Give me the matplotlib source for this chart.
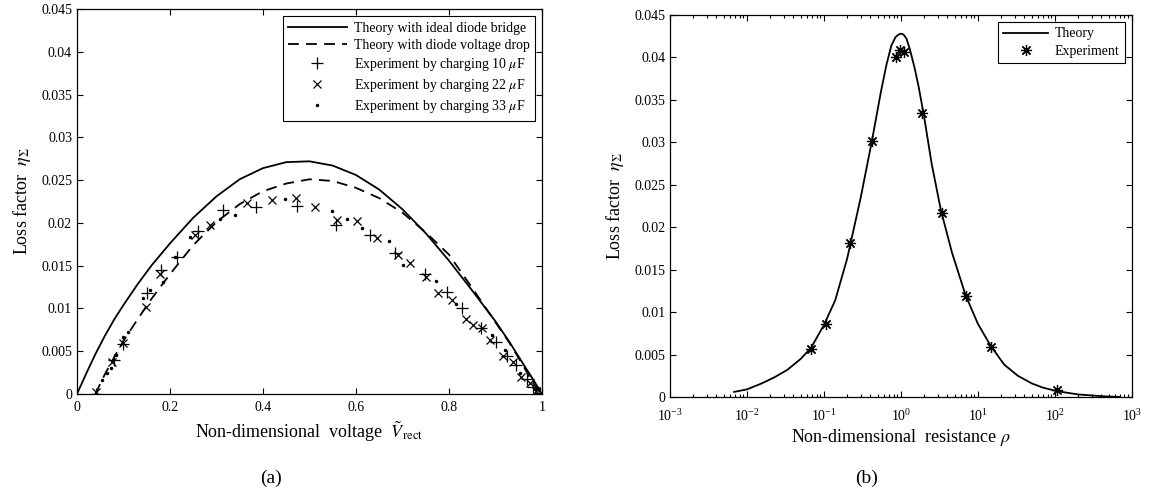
import numpy as np
import matplotlib
matplotlib.use("Agg")
import matplotlib.pyplot as plt

plt.rcParams['font.family'] = ['Liberation Serif', 'DejaVu Serif']
plt.rcParams['mathtext.fontset'] = 'stix'

# --- (a) loss factor vs rectified voltage ---
v_ideal = [0.0, 0.01, 0.02, 0.04, 0.06, 0.08, 0.10, 0.13, 0.16, 0.20, 0.25,
           0.30, 0.35, 0.40, 0.45, 0.50, 0.55, 0.60, 0.65, 0.70, 0.75, 0.80,
           0.85, 0.90, 0.93, 0.96, 0.98, 1.0]
eta_ideal = [0.0, 0.0012, 0.0024, 0.0047, 0.0068, 0.0087, 0.0104, 0.0128,
             0.0150, 0.0176, 0.0206, 0.0231, 0.0251, 0.0264, 0.0271, 0.0272,
             0.0267, 0.0256, 0.0239, 0.0216, 0.0188, 0.0156, 0.0121, 0.0085,
             0.0061, 0.0035, 0.0018, 0.0]

v_drop = [0.04, 0.05, 0.06, 0.08, 0.10, 0.13, 0.16, 0.20, 0.25, 0.30, 0.35,
          0.40, 0.45, 0.50, 0.55, 0.60, 0.65, 0.70, 0.75, 0.80, 0.85, 0.90,
          0.93, 0.96, 0.98, 1.0]
eta_drop = [0.0, 0.0012, 0.0023, 0.0043, 0.0062, 0.0087, 0.0111, 0.0140,
            0.0174, 0.0201, 0.0222, 0.0237, 0.0246, 0.0251, 0.0249, 0.0241,
            0.0229, 0.0212, 0.0189, 0.0163, 0.0124, 0.0084, 0.0060, 0.0033,
            0.0013, 0.0]

v_10uF = [0.04, 0.08, 0.10, 0.15, 0.18, 0.215, 0.26, 0.315, 0.386, 0.474,
          0.557, 0.63, 0.684, 0.748, 0.795, 0.829, 0.870, 0.902, 0.924, 0.945,
          0.967, 0.981, 0.995]
eta_10uF = [0.0, 0.0040, 0.0058, 0.0118, 0.0145, 0.0160, 0.0190, 0.0215,
            0.0219, 0.0220, 0.0198, 0.0186, 0.0165, 0.0140, 0.0119, 0.0100,
            0.0077, 0.0061, 0.0044, 0.0034, 0.0018, 0.0008, 0.0001]

v_22uF = [0.04, 0.075, 0.098, 0.148, 0.178, 0.254, 0.286, 0.365, 0.419, 0.472,
          0.512, 0.560, 0.603, 0.645, 0.691, 0.716, 0.750, 0.777, 0.806, 0.837,
          0.852, 0.872, 0.888, 0.917, 0.938, 0.956, 0.974, 0.988, 1.0]
eta_22uF = [0.0002, 0.0038, 0.0060, 0.0102, 0.0140, 0.0186, 0.0198, 0.0223,
            0.0227, 0.0229, 0.0219, 0.0203, 0.0202, 0.0182, 0.0162, 0.0153,
            0.0137, 0.0118, 0.0110, 0.0088, 0.0081, 0.0077, 0.0063, 0.0044,
            0.0038, 0.0020, 0.0013, 0.0004, 0.0]

v_33uF = [0.053, 0.064, 0.074, 0.085, 0.10, 0.11, 0.143, 0.157, 0.185, 0.211,
          0.243, 0.307, 0.34, 0.447, 0.548, 0.58, 0.612, 0.672, 0.702, 0.773,
          0.816, 0.892, 0.920, 0.953, 0.985]
eta_33uF = [0.0016, 0.0024, 0.0030, 0.0046, 0.0067, 0.0073, 0.0112, 0.0122,
            0.0131, 0.0160, 0.0184, 0.0205, 0.0209, 0.0228, 0.0214, 0.0205,
            0.0194, 0.0179, 0.0151, 0.0132, 0.0105, 0.0069, 0.0051, 0.0025,
            0.0006]

# --- (b) loss factor vs resistance ---
rho_theory = [0.0068, 0.01, 0.0155, 0.0225, 0.0334, 0.05, 0.068, 0.1, 0.14,
              0.2, 0.3, 0.42, 0.55, 0.65, 0.75, 0.85, 0.93, 1.0, 1.08, 1.18,
              1.3, 1.5, 1.7, 2.0, 2.5, 3.3, 4.6, 6.9, 10, 14.7, 22, 33, 50,
              70, 105, 200, 400, 700]
eta_theory = [0.0006, 0.0009, 0.0016, 0.0023, 0.0032, 0.0045, 0.0058, 0.0085,
              0.0114, 0.0163, 0.0235, 0.0302, 0.0360, 0.0392, 0.0414, 0.0424,
              0.0427, 0.0428, 0.0427, 0.0422, 0.0410, 0.0388, 0.0365, 0.0330,
              0.0275, 0.0220, 0.0170, 0.0120, 0.0086, 0.0060, 0.0038, 0.0025,
              0.0016, 0.0011, 0.0007, 0.0003, 0.0001, 0.0]

rho_exp = [0.068, 0.106, 0.22, 0.425, 0.85, 0.98, 1.09, 1.89, 3.41, 6.96, 14.7, 105]
eta_exp = [0.0057, 0.0086, 0.0181, 0.0301, 0.0400, 0.0409, 0.0406, 0.0334,
           0.0217, 0.0119, 0.0059, 0.0008]

y_ticks = [0, 0.005, 0.01, 0.015, 0.02, 0.025, 0.03, 0.035, 0.04, 0.045]
y_labels = ['0', '0.005', '0.01', '0.015', '0.02', '0.025', '0.03', '0.035', '0.04', '0.045']
x_ticks_a = [0, 0.2, 0.4, 0.6, 0.8, 1.0]
x_labels_a = ['0', '0.2', '0.4', '0.6', '0.8', '1']


def style_axes(ax):
    ax.tick_params(direction='in', top=True, right=True, which='both',
                   labelsize=10, length=4, width=0.8)
    ax.tick_params(which='minor', length=2)
    for s in ax.spines.values():
        s.set_linewidth(0.9)
    ax.set_yticks(y_ticks, y_labels)
    ax.set_ylim(0, 0.045)
    ax.set_ylabel(r'Loss factor  $\eta_\Sigma$', fontsize=13, labelpad=6)


fig = plt.figure(figsize=(11.52, 4.98), dpi=100)
ax1 = fig.add_axes([0.0668, 0.2088, 0.4036, 0.7731])
ax2 = fig.add_axes([0.5816, 0.2028, 0.4010, 0.7671])

ax1.plot(v_ideal, eta_ideal, 'k-', lw=1.3, label='Theory with ideal diode bridge')
ax1.plot(v_drop, eta_drop, 'k--', lw=1.3, dashes=(6, 4),
         label='Theory with diode voltage drop')
ax1.plot(v_10uF, eta_10uF, 'k+', ms=8, mew=0.9,
         label=r'Experiment by charging 10 $\mu$F')
ax1.plot(v_22uF, eta_22uF, 'kx', ms=6, mew=0.9,
         label=r'Experiment by charging 22 $\mu$F')
ax1.plot(v_33uF, eta_33uF, 'k.', ms=3,
         label=r'Experiment by charging 33 $\mu$F')
ax1.set_xlim(0, 1)
ax1.set_xticks(x_ticks_a, x_labels_a)
style_axes(ax1)
ax1.tick_params(axis='x', pad=5)
ax1.set_xlabel(r'Non-dimensional  voltage  $\tilde{V}_{\mathrm{rect}}$', fontsize=13, labelpad=4)
leg1 = ax1.legend(loc='upper right', fontsize=10, fancybox=False, edgecolor='k',
                  framealpha=1, handlelength=4.2, borderaxespad=0.5,
                  labelspacing=0.3, borderpad=0.4, handletextpad=0.5)
leg1.get_frame().set_linewidth(0.8)

ax2.plot(rho_theory, eta_theory, 'k-', lw=1.3, label='Theory')
ax2.plot(rho_exp, eta_exp, 'k', ls='none', marker=(8, 2, 0), ms=8, mew=0.9,
         label='Experiment')
ax2.set_xscale('log')
ax2.set_xlim(1e-3, 1e3)
style_axes(ax2)
ax2.tick_params(axis='x', which='major', pad=8)
ax2.set_xlabel(r'Non-dimensional  resistance $\rho$', fontsize=13, labelpad=2)
leg2 = ax2.legend(loc='upper right', fontsize=10, fancybox=False, edgecolor='k',
                  framealpha=1, handlelength=3.2, borderaxespad=0.5,
                  labelspacing=0.3, borderpad=0.4, handletextpad=0.5)
leg2.get_frame().set_linewidth(0.8)

fig.text(0.235, 0.04, '(a)', ha='center', va='center', fontsize=14)
fig.text(0.752, 0.04, '(b)', ha='center', va='center', fontsize=14)

fig.savefig('out.png', dpi=100)
